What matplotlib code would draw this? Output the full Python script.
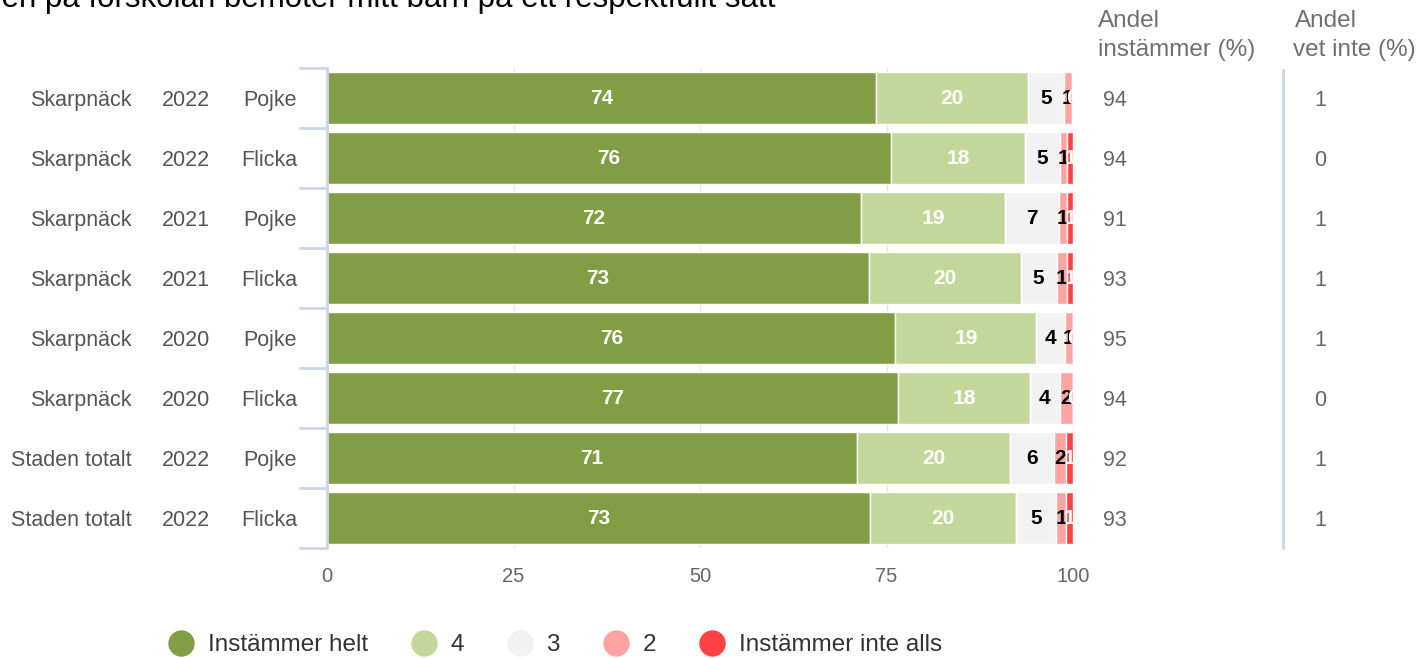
import numpy as np
import matplotlib.pyplot as plt
from matplotlib.lines import Line2D

plt.rcParams['font.family'] = ['Liberation Sans', 'DejaVu Sans']

# data
areas = ["Skarpnäck", "Skarpnäck", "Skarpnäck", "Skarpnäck", "Skarpnäck", "Skarpnäck",
         "Staden totalt", "Staden totalt"]
years = ["2022", "2022", "2021", "2021", "2020", "2020", "2022", "2022"]
genders = ["Pojke", "Flicka", "Pojke", "Flicka", "Pojke", "Flicka", "Pojke", "Flicka"]

helt = [73.6, 75.6, 71.6, 72.7, 76.2, 76.6, 71.1, 72.8]
fyra = [20.4, 18.0, 19.3, 20.3, 18.9, 17.6, 20.4, 19.6]
tre = [4.8, 4.6, 7.2, 4.8, 3.8, 4.0, 5.9, 5.3]
tva = [1.0, 1.0, 1.1, 1.4, 1.1, 1.8, 1.6, 1.4]
inte = [0.2, 0.8, 0.8, 0.8, 0.0, 0.0, 1.0, 0.9]

andel_instammer = [94, 94, 91, 93, 95, 94, 92, 93]
andel_vet_inte = [1, 0, 1, 1, 1, 0, 1, 1]

series_names = ["Instämmer helt", "4", "3", "2", "Instämmer inte alls"]
colors = ["#829e44", "#c4d79b", "#f2f2f2", "#ffa3a3", "#ff4343"]
label_colors = ["white", "white", "black", "black", "white"]

W, H = 1420, 658
fig = plt.figure(figsize=(W / 100, H / 100), dpi=100)
ax = fig.add_axes([327 / W, 1 - 548 / H, (1073 - 327) / W, (548 - 68) / H])

series = [helt, fyra, tre, tva, inte]
y = np.arange(len(areas))
left = np.zeros(len(areas))
for vals, col, lc in zip(series, colors, label_colors):
    vals = np.array(vals)
    ax.barh(y, vals, left=left, height=0.87, color=col, edgecolor="white",
            linewidth=1, zorder=2)
    for yi, (l, v) in enumerate(zip(left, vals)):
        t = ax.text(l + v / 2, yi, f"{v:.0f}", ha="center", va="center",
                    color=lc, fontsize=15, fontweight="bold", zorder=3)
        t.set_clip_on(True)
    left += vals

ax.set_xlim(0, 100)
ax.set_ylim(len(areas) - 0.5, -0.5)
ax.set_xticks([0, 25, 50, 75, 100])
ax.set_xticklabels(["0", "25", "50", "75", "100"], color="#666666", fontsize=14.5)
ax.tick_params(axis="x", length=0, pad=14)
ax.grid(axis="x", color="#e6e6e6", linewidth=1, zorder=0)
ax.set_axisbelow(True)
for s in ["top", "right", "bottom"]:
    ax.spines[s].set_visible(False)
ax.spines["left"].set_color("#ccd6eb")
ax.spines["left"].set_linewidth(2)
ax.set_yticks(np.arange(len(areas) + 1) - 0.5)
ax.set_yticklabels([])
ax.tick_params(axis="y", length=20, width=2, color="#ccd6eb")

# category labels
txt = "#555555"
for i in range(len(areas)):
    yp = 1 - (106 + 60 * i) / H
    fig.text(132 / W, yp, areas[i], ha="right", va="baseline", fontsize=15.5, color=txt)
    fig.text(186 / W, yp, years[i], ha="center", va="baseline", fontsize=15.5, color=txt)
    fig.text(297 / W, yp, genders[i], ha="right", va="baseline", fontsize=15.5, color=txt)
    fig.text(1103 / W, yp, str(andel_instammer[i]), ha="left", va="baseline", fontsize=15.5, color="#666666")
    fig.text(1320 / W, yp, str(andel_vet_inte[i]), ha="center", va="baseline", fontsize=15.5, color="#666666")

hdr = "#707070"
fig.text(1098 / W, 1 - 21 / H, "Andel", ha="left", va="center", fontsize=17.5, color=hdr)
fig.text(1098 / W, 1 - 50 / H, "instämmer (%)", ha="left", va="center", fontsize=17.5, color=hdr)
fig.text(1295 / W, 1 - 21 / H, "Andel", ha="left", va="center", fontsize=17.5, color=hdr)
fig.text(1293 / W, 1 - 50 / H, "vet inte (%)", ha="left", va="center", fontsize=17.5, color=hdr)
fig.add_artist(Line2D([1283 / W, 1283 / W], [1 - 70 / H, 1 - 548 / H], color="#ccd6eb", linewidth=2))

# title, partly outside the canvas
fig.text(775 / W, 1 - 7 / H, "Personalen på förskolan bemöter mitt barn på ett respektfullt sätt",
         ha="right", va="baseline", fontsize=22.5, color="black")

# legend
handles = [Line2D([], [], marker="o", linestyle="none", markersize=18, color=c) for c in colors]
fig.legend(handles, series_names, loc="center", bbox_to_anchor=(554 / W, 1 - 645 / H),
           ncol=5, frameon=False, fontsize=17.5, handletextpad=0.5, columnspacing=1.7,
           handlelength=1.2, labelcolor="#333333")

plt.savefig("out.png", dpi=100)
plt.close()
